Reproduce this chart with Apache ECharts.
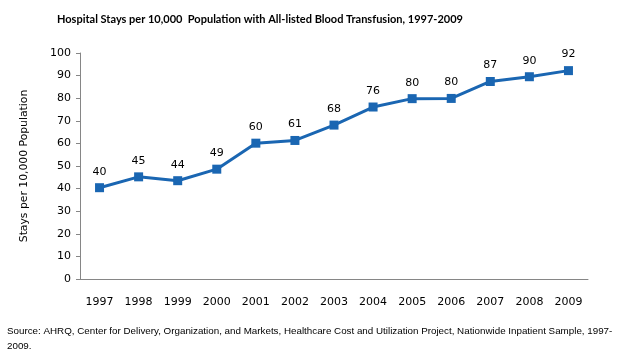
<!DOCTYPE html>
<html lang="en">
<head>
    <meta charset="UTF-8">
    <title>Hospital Stays with Blood Transfusion</title>
    <script src="https://cdn.jsdelivr.net/npm/echarts@6/dist/echarts.min.js"></script>
</head>
<body style="margin:0;">
    <div id="main" style="width: 621px;height:351px;"></div>
    <script type="text/javascript">
        // years on the x axis
        var years = ['1997','1998','1999','2000','2001','2002','2003','2004','2005','2006','2007','2008','2009'];
        // stays per 10,000 population
        var stays = [40.4, 45.2, 43.5, 48.6, 60.1, 61.3, 68.1, 76.1, 79.8, 79.9, 87.4, 89.5, 92.2];
        var yTicks = { min: 0, max: 100, interval: 10 };

        var myChart = echarts.init(document.getElementById('main'));
        var font = 'DejaVu Sans';
        var option = {
            animation: false,
            title: {
                text: 'Hospital Stays per 10,000  Population with All-listed Blood Transfusion, 1997-2009',
                left: 52,
                top: 9,
                textStyle: { fontFamily: 'Lato', fontWeight: 'bold', fontSize: 11, color: '#000' }
            },
            grid: { left: 80, right: 33, top: 53, bottom: 72 },
            xAxis: {
                type: 'category',
                data: years,
                axisLine: { lineStyle: { color: '#868686' } },
                axisTick: { length: 4, lineStyle: { color: '#868686' } },
                axisLabel: { color: '#000', fontFamily: font, fontSize: 11, margin: 18 }
            },
            yAxis: {
                type: 'value',
                min: yTicks.min, max: yTicks.max, interval: yTicks.interval,
                name: 'Stays per 10,000 Population',
                nameLocation: 'middle',
                nameGap: 50,
                nameTextStyle: { color: '#000', fontFamily: font, fontSize: 10.8 },
                axisLine: { show: true, lineStyle: { color: '#868686' } },
                axisTick: { show: true, length: 4, lineStyle: { color: '#868686' } },
                splitLine: { show: false },
                axisLabel: { color: '#000', fontFamily: font, fontSize: 11, margin: 9 }
            },
            series: [{
                type: 'line',
                data: stays,
                symbol: 'rect',
                symbolSize: 9,
                lineStyle: { color: '#1a66b2', width: 3 },
                itemStyle: { color: '#1a66b2' },
                label: {
                    show: true,
                    position: 'top',
                    distance: 6,
                    color: '#000',
                    fontFamily: font,
                    fontSize: 11,
                    formatter: function (p) { return Math.round(p.value); }
                }
            }],
            graphic: [{
                type: 'text',
                left: 7,
                top: 324,
                style: {
                    text: 'Source: AHRQ, Center for Delivery, Organization, and Markets, Healthcare Cost and Utilization Project, Nationwide Inpatient Sample, 1997-\n2009.',
                    fontFamily: 'Liberation Sans Narrow, Liberation Sans',
                    fontSize: 9.8,
                    lineHeight: 15,
                    fill: '#000'
                }
            }]
        };
        myChart.setOption(option);
    </script>
</body>
</html>
